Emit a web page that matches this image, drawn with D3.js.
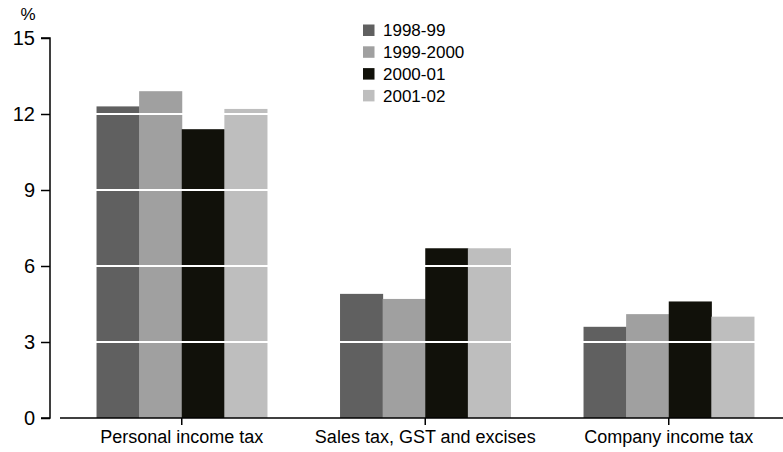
<!DOCTYPE html>
<html>
<head>
<meta charset="utf-8">
<script src="https://cdn.jsdelivr.net/npm/d3@7"></script>
<style>
  body { margin: 0; background: #fff; }
  svg { display: block; font-family: "Liberation Sans", Arial, sans-serif; }
</style>
</head>
<body>
<svg id="chart" width="783" height="452"></svg>
<script>
// Tax categories and yearly shares (%)
const categories = ["Personal income tax", "Sales tax, GST and excises", "Company income tax"];
const years = ["1998-99", "1999-2000", "2000-01", "2001-02"];
const values1998 = [12.3, 4.9, 3.6];
const values1999 = [12.9, 4.7, 4.1];
const values2000 = [11.4, 6.7, 4.6];
const values2001 = [12.2, 6.7, 4.0];
const yTicks = [0, 3, 6, 9, 12, 15];
const colours = ["#606060", "#a0a0a0", "#11110a", "#bebebe"];

const seriesValues = [values1998, values1999, values2000, values2001];
const rows = categories.map((c, i) => ({
  category: c,
  values: years.map((y, j) => ({ year: y, value: seriesValues[j][i] }))
}));

const svg = d3.select("#chart");
const yAxisX = 50, plotLeft = 60;

const y = d3.scaleLinear().domain([0, 15]).range([418, 38]);
const x0 = d3.scaleBand().domain(categories).range([plotLeft, 790.5])
  .paddingInner(0.3).paddingOuter(0.15);
const x1 = d3.scaleBand().domain(years).range([0, x0.bandwidth()]);
const colour = d3.scaleOrdinal().domain(years).range(colours);

// Bars
svg.append("g").selectAll("g").data(rows).join("g")
  .attr("transform", d => `translate(${x0(d.category)},0)`)
  .selectAll("rect").data(d => d.values).join("rect")
  .attr("x", d => x1(d.year))
  .attr("width", x1.bandwidth() + 0.5)
  .attr("y", d => y(d.value))
  .attr("height", d => y(0) - y(d.value))
  .attr("fill", d => colour(d.year));

// White gridlines over the bars
svg.append("g").selectAll("line").data(yTicks.filter(t => t > 0 && t < 15)).join("line")
  .attr("x1", plotLeft).attr("x2", 783)
  .attr("y1", d => y(d)).attr("y2", d => y(d))
  .attr("stroke", "#fff").attr("stroke-width", 2);

// Y axis
const yAxis = svg.append("g")
  .attr("transform", `translate(${yAxisX},0)`)
  .call(d3.axisLeft(y).tickValues(yTicks).tickSize(9).tickPadding(6).tickFormat(d3.format("d")));
yAxis.select(".domain").attr("d", `M-9,${y(15)}H0V${y(0)}H-9`).attr("stroke", "#000").attr("stroke-width", 1.5);
yAxis.selectAll(".tick line").attr("stroke", "#000").attr("stroke-width", 1.5);
yAxis.selectAll(".tick text").attr("font-size", 20).attr("fill", "#000")
  .attr("font-family", "Liberation Sans, Arial, sans-serif");

svg.append("text").attr("x", 28).attr("y", 20).attr("text-anchor", "middle")
  .attr("font-size", 17).text("%");

// X axis
const xAxis = svg.append("g")
  .attr("transform", `translate(0,${y(0)})`)
  .call(d3.axisBottom(x0).tickSize(7).tickPadding(5));
xAxis.select(".domain").attr("d", `M${plotLeft},0H783`).attr("stroke", "#000").attr("stroke-width", 1.5);
xAxis.selectAll(".tick line").attr("stroke", "#000").attr("stroke-width", 1.5);
xAxis.selectAll(".tick text").attr("font-size", 18).attr("fill", "#000")
  .attr("font-family", "Liberation Sans, Arial, sans-serif");

// Legend
const legend = svg.append("g").attr("transform", "translate(363,24.5)");
const item = legend.selectAll("g").data(years).join("g")
  .attr("transform", (d, i) => `translate(0,${i * 21.8})`);
item.append("rect").attr("width", 11.5).attr("height", 11.5).attr("fill", d => colour(d));
item.append("text").attr("x", 20).attr("y", 6).attr("dy", "0.35em")
  .attr("font-size", 17).text(d => d);
</script>
</body>
</html>
